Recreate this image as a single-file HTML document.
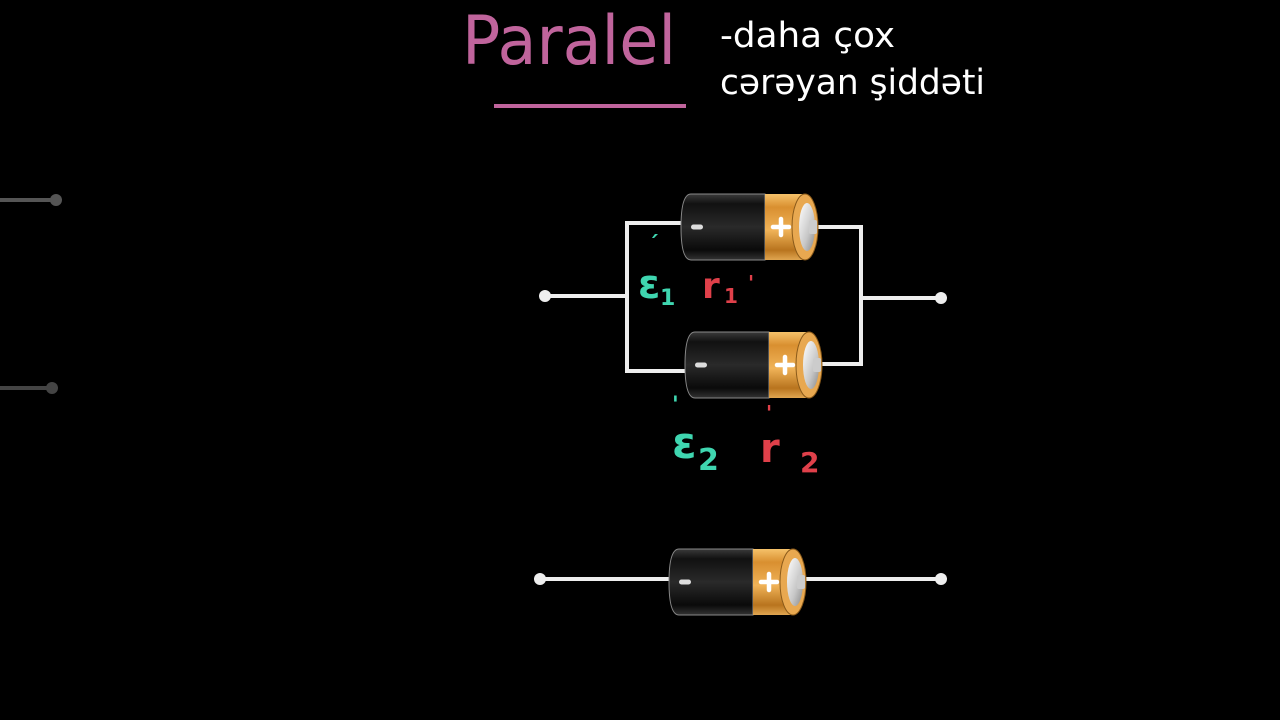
<!DOCTYPE html>
<html><head><meta charset="utf-8"><style>
html,body{margin:0;padding:0;background:#000;width:1280px;height:720px;overflow:hidden}
svg{display:block}
</style></head><body>
<svg width="1280" height="720" viewBox="0 0 1280 720" xmlns="http://www.w3.org/2000/svg">
<defs>
<linearGradient id="blk" x1="0" y1="0" x2="0" y2="1">
<stop offset="0" stop-color="#3a3a3a"/><stop offset="0.15" stop-color="#111"/><stop offset="0.5" stop-color="#2a2a2a"/><stop offset="0.85" stop-color="#0a0a0a"/><stop offset="1" stop-color="#333"/>
</linearGradient>
<linearGradient id="org" x1="0" y1="0" x2="0" y2="1">
<stop offset="0" stop-color="#f5c26a"/><stop offset="0.2" stop-color="#d98f30"/><stop offset="0.55" stop-color="#f0b358"/><stop offset="0.85" stop-color="#b8741e"/><stop offset="1" stop-color="#e0a550"/>
</linearGradient>
<linearGradient id="sil" x1="0" y1="0" x2="1" y2="1">
<stop offset="0" stop-color="#ffffff"/><stop offset="0.6" stop-color="#c8c8c8"/><stop offset="1" stop-color="#888"/>
</linearGradient>
<g id="bat">
<path d="M8,-33 H82 V33 H8 Q-2,33 -2,0 Q-2,-33 8,-33 Z" fill="url(#blk)" stroke="#888" stroke-width="1"/>
<rect x="82" y="-33" width="40" height="66" fill="url(#org)"/>
<rect x="8" y="-2.5" width="12" height="5" rx="2.5" fill="#ddd"/>
<path d="M90,0 h16 M98,-8 v16" stroke="#fff" stroke-width="4.5" stroke-linecap="round"/>
<ellipse cx="122" cy="0" rx="13" ry="33" fill="#e8a850" stroke="#8a5a1a" stroke-width="1"/>
<ellipse cx="124" cy="0" rx="8" ry="24" fill="url(#sil)"/>
<rect x="126" y="-7" width="8" height="14" rx="2" fill="#ccc"/>
</g>
</defs>

<line x1="0" y1="200" x2="55" y2="200" stroke="#555" stroke-width="4"/>
<circle cx="56" cy="200" r="6" fill="#555"/>
<line x1="0" y1="388" x2="52" y2="388" stroke="#444" stroke-width="4"/>
<circle cx="52" cy="388" r="6" fill="#444"/>

<text x="462" y="64" font-family="DejaVu Sans, Liberation Sans, sans-serif" font-size="68" fill="#c0649c" textLength="214" lengthAdjust="spacingAndGlyphs">Paralel</text>
<line x1="494" y1="106" x2="686" y2="106" stroke="#c0649c" stroke-width="4"/>
<text x="720" y="47" font-family="DejaVu Sans, Liberation Sans, sans-serif" font-size="35" fill="#fff" textLength="175" lengthAdjust="spacingAndGlyphs">-daha çox</text>
<text x="720" y="94" font-family="DejaVu Sans, Liberation Sans, sans-serif" font-size="35" fill="#fff" textLength="265" lengthAdjust="spacingAndGlyphs">cərəyan şiddəti</text>

<g stroke="#eee" stroke-width="4" fill="none">
<line x1="545" y1="296" x2="627" y2="296"/>
<polyline points="686,223 627,223 627,371 690,371"/>
<polyline points="815,227 861,227 861,364 820,364"/>
<line x1="861" y1="298" x2="941" y2="298"/>
<line x1="540" y1="579" x2="672" y2="579"/>
<line x1="805" y1="579" x2="941" y2="579"/>
</g>
<circle cx="545" cy="296" r="6" fill="#eee"/>
<circle cx="941" cy="298" r="6" fill="#eee"/>
<circle cx="540" cy="579" r="6" fill="#eee"/>
<circle cx="941" cy="579" r="6" fill="#eee"/>

<use href="#bat" transform="translate(683,227)"/>
<use href="#bat" transform="translate(687,365)"/>
<use href="#bat" transform="translate(671,582)"/>

<g font-family="DejaVu Sans, Liberation Sans, sans-serif" font-weight="bold">
<text x="638" y="298" font-size="40" fill="#3fd6b0">ε</text>
<text x="660" y="305" font-size="22" fill="#3fd6b0">1</text>
<text x="648" y="252" font-size="22" fill="#3fd6b0">´</text>
<text x="702" y="298" font-size="36" fill="#e0404a">r</text>
<text x="724" y="303" font-size="20" fill="#e0404a">1</text>
<text x="748" y="290" font-size="20" fill="#e0404a">'</text>
<text x="672" y="458" font-size="44" fill="#3fd6b0">ε</text>
<text x="698" y="470" font-size="30" fill="#3fd6b0">2</text>
<text x="672" y="412" font-size="22" fill="#3fd6b0">'</text>
<text x="760" y="462" font-size="40" fill="#e0404a">r</text>
<text x="800" y="472" font-size="28" fill="#e0404a">2</text>
<text x="766" y="420" font-size="20" fill="#e0404a">'</text>
</g>
</svg>
</body></html>
